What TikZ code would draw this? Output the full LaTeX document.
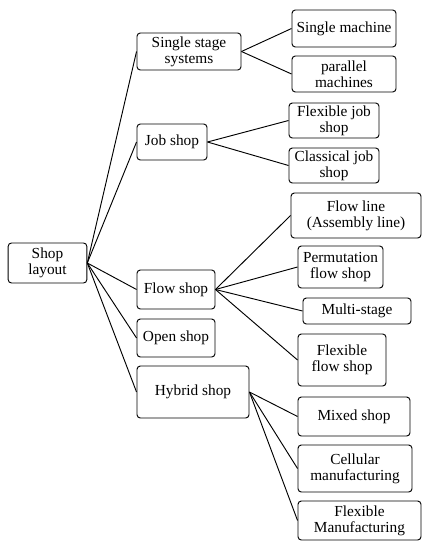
\documentclass[tikz,border=0pt]{standalone}
\usepackage{fontspec}
\setmainfont{Liberation Serif}
\usepackage{tikz}
\usetikzlibrary{positioning}

\begin{document}
\begin{tikzpicture}[
  x=0.75pt, y=-0.75pt,
  font=\fontsize{11.5}{12}\selectfont,
  box/.style 2 args={draw, rounded corners=2.5pt, line width=0.7pt, align=center,
              inner sep=1pt, minimum width=#1, minimum height=#2},
  link/.style={line width=0.7pt}]
\useasboundingbox (0,0) rectangle (429,550);
% root
\node[box={59pt}{30pt}] (layout) at (47.5,263) {Shop\\layout};
% first level
\node[box={78pt}{27.75pt}] (single) at (189,51.5) {Single stage\\systems};
\node[box={52.5pt}{27pt}] (job) at (172,142) {Job shop};
\node[box={58.5pt}{29.25pt}] (flow) at (176,289.5) {Flow shop};
\node[box={58.5pt}{28.5pt}] (open) at (176,338) {Open shop};
\node[box={84pt}{39pt}] (hybrid) at (193,392) {Hybrid shop};
% second level
\node[box={78pt}{27.75pt}] (smach) at (344,28.5) {Single machine};
\node[box={78pt}{27pt}] (pmach) at (344,74) {parallel\\machines};
\node[box={67.5pt}{26.25pt}] (fjob) at (334,120.5) {Flexible job\\shop};
\node[box={67.5pt}{26.25pt}] (cjob) at (334,165.5) {Classical job\\shop};
\node[box={97.5pt}{33.75pt}] (fline) at (356,215.5) {Flow line\\(Assembly line)};
\node[box={63.75pt}{31.5pt}] (perm) at (340.5,267) {Permutation\\flow shop};
\node[box={81pt}{19.5pt}] (multi) at (357,311) {Multi-stage};
\node[box={66pt}{39pt}] (fflow) at (342,360) {Flexible\\flow shop};
\node[box={84pt}{29.25pt}] (mixed) at (354,416.5) {Mixed shop};
\node[box={85.5pt}{35.25pt}] (cell) at (355,468.5) {Cellular\\manufacturing};
\node[box={92.25pt}{29.25pt}] (fman) at (359.5,520.5) {Flexible\\Manufacturing};
% links
\draw[link] (layout.east) -- (single.west);
\draw[link] (layout.east) -- (job.west);
\draw[link] (layout.east) -- (flow.west);
\draw[link] (layout.east) -- (open.west);
\draw[link] (layout.east) -- (hybrid.west);
\draw[link] (single.east) -- (smach.west);
\draw[link] (single.east) -- (pmach.west);
\draw[link] (job.east) -- (fjob.west);
\draw[link] (job.east) -- (cjob.west);
\draw[link] (flow.east) -- (fline.west);
\draw[link] (flow.east) -- (perm.west);
\draw[link] (flow.east) -- (multi.west);
\draw[link] (flow.east) -- (fflow.west);
\draw[link] (hybrid.east) -- (mixed.west);
\draw[link] (hybrid.east) -- (cell.west);
\draw[link] (hybrid.east) -- (fman.west);
\end{tikzpicture}
\end{document}
